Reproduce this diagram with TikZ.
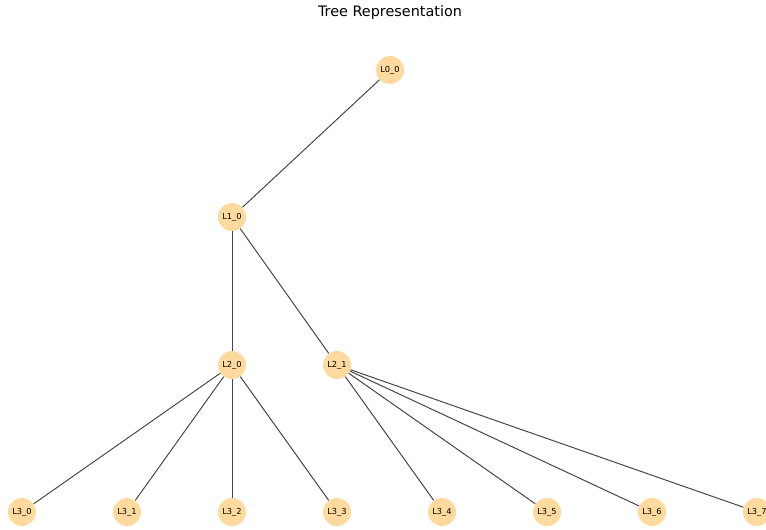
\documentclass[tikz,border=0pt]{standalone}
\usepackage{fontspec}
\setmainfont{DejaVu Sans}
\usepackage{tikz}
\usetikzlibrary{positioning}
\definecolor{nodefill}{HTML}{FFDA9E}
\definecolor{edgex}{HTML}{474747}
\tikzset{
  tn/.style={circle,fill=nodefill,minimum size=21pt,inner sep=0pt,font=\fontsize{6.2}{7}\selectfont},
  ed/.style={edgex,line width=0.75pt}
}
\begin{document}
\begin{tikzpicture}[x=0.75pt,y=-0.75pt]
\useasboundingbox (0,0) rectangle (766,529);
\clip (0,0) rectangle (766,529);
\node[font=\fontsize{10.8}{13}\selectfont] (title) at (390,13) {Tree Representation};
% levels
\node[tn] (L00) at (390,70) {L0\_0};
\node[tn] (L10) at (232,217) {L1\_0};
\node[tn] (L20) at (232,365) {L2\_0};
\node[tn] (L21) at (337,365) {L2\_1};
\foreach \i in {0,...,7}
  \node[tn] (L3\i) at (22+105*\i,512) {L3\_\i};
% edges
\draw[ed] (L00) -- (L10);
\draw[ed] (L10) -- (L20);
\draw[ed] (L10) -- (L21);
\foreach \i in {0,...,3}
  \draw[ed] (L20) -- (L3\i);
\foreach \i in {4,...,7}
  \draw[ed] (L21) -- (L3\i);
\end{tikzpicture}
\end{document}
